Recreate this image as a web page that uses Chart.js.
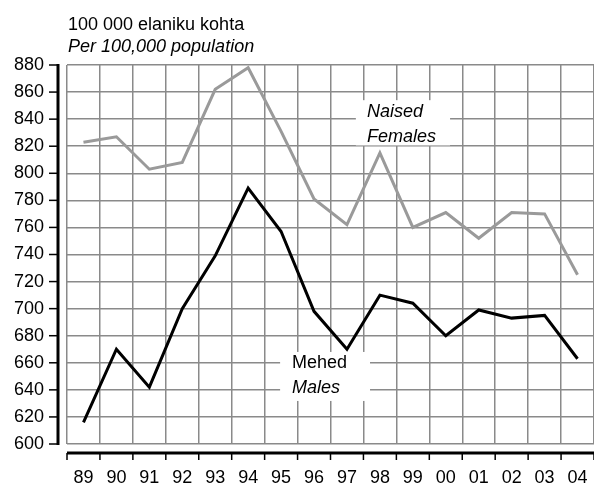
<!DOCTYPE html>
<html>
<head>
<meta charset="utf-8">
<script src="https://cdn.jsdelivr.net/npm/chart.js@4"></script>
<style>
  html, body { margin: 0; padding: 0; background: #fff; }
  canvas { display: block; }
</style>
</head>
<body>
<canvas id="chart" width="594" height="484"></canvas>
<script>
// data
const years = ['89', '90', '91', '92', '93', '94', '95', '96', '97', '98', '99', '00', '01', '02', '03', '04'];
const females = [823, 827, 803, 808, 862, 878, 831, 781, 762, 815, 760, 771, 752, 771, 770, 725];
const males = [616, 670, 642, 700, 739, 789, 757, 698, 670, 710, 704, 680, 699, 693, 695, 663];
const yMin = 600;
const yMax = 880;
const yStep = 20;

const FONT = '"Liberation Sans", Arial, Helvetica, sans-serif';

// white box + two text lines, placed in data units
function seriesLabel(ctx, x, y, box, lines) {
  const left = x.getPixelForValue(box[0]);
  const right = x.getPixelForValue(box[1]);
  const top = y.getPixelForValue(box[2]);
  const bottom = y.getPixelForValue(box[3]);
  ctx.fillStyle = '#fff';
  ctx.fillRect(left, top, right - left, bottom - top);
  ctx.fillStyle = '#000';
  ctx.textBaseline = 'middle';
  ctx.textAlign = 'left';
  lines.forEach(l => {
    ctx.font = (l.italic ? 'italic ' : '') + '18px ' + FONT;
    ctx.fillText(l.text, x.getPixelForValue(l.at[0]), y.getPixelForValue(l.at[1]));
  });
}

const decor = {
  id: 'decor',
  beforeDatasetsDraw(chart) {
    const { ctx, scales: { x, y } } = chart;
    ctx.save();
    seriesLabel(ctx, x, y, [8.27, 11.13, 854, 820.6], [
      { text: 'Naised', italic: true, at: [8.61, 845.5] },
      { text: 'Females', italic: true, at: [8.61, 827] }
    ]);
    seriesLabel(ctx, x, y, [5.97, 8.7, 668, 631.8], [
      { text: 'Mehed', italic: false, at: [6.33, 659.5] },
      { text: 'Males', italic: true, at: [6.33, 641.5] }
    ]);
    ctx.restore();
  },
  afterDraw(chart) {
    const { ctx, chartArea, scales: { x, y } } = chart;
    ctx.save();
    ctx.strokeStyle = '#000';
    // y axis line, set off from the grid
    const ax = chartArea.left - 9;
    ctx.lineWidth = 3;
    ctx.beginPath();
    ctx.moveTo(ax, y.getPixelForValue(yMax) - 1);
    ctx.lineTo(ax, y.getPixelForValue(yMin) + 1);
    ctx.stroke();
    ctx.lineWidth = 1.5;
    y.ticks.forEach(t => {
      const py = y.getPixelForValue(t.value);
      ctx.beginPath();
      ctx.moveTo(ax - 9, py);
      ctx.lineTo(ax, py);
      ctx.stroke();
    });
    // x axis line below the grid
    const ay = chartArea.bottom + 9;
    ctx.lineWidth = 3;
    ctx.beginPath();
    ctx.moveTo(chartArea.left, ay);
    ctx.lineTo(chartArea.right, ay);
    ctx.stroke();
    ctx.lineWidth = 1.5;
    for (let i = 0; i <= years.length; i++) {
      const px = x.getPixelForValue(i - 0.5);
      ctx.beginPath();
      ctx.moveTo(px, ay);
      ctx.lineTo(px, ay + 7);
      ctx.stroke();
    }
    // titles
    ctx.fillStyle = '#000';
    ctx.textBaseline = 'middle';
    ctx.textAlign = 'left';
    ctx.font = '18px ' + FONT;
    ctx.fillText('100 000 elaniku kohta', 68, 25);
    ctx.font = 'italic 18px ' + FONT;
    ctx.fillText('Per 100,000 population', 68, 47);
    ctx.restore();
  }
};

new Chart(document.getElementById('chart'), {
  type: 'line',
  data: {
    labels: years,
    datasets: [
      { label: 'Naised / Females', data: females, borderColor: '#9a9a9a', borderWidth: 3, pointRadius: 0, tension: 0 },
      { label: 'Mehed / Males', data: males, borderColor: '#000', borderWidth: 3, pointRadius: 0, tension: 0 }
    ]
  },
  options: {
    responsive: false,
    devicePixelRatio: 1,
    animation: false,
    layout: { padding: { top: 65, left: 0, right: 0, bottom: 0 } },
    plugins: { legend: { display: false }, tooltip: { enabled: false } },
    scales: {
      x: {
        offset: true,
        grid: { offset: true, color: '#8a8a8a', lineWidth: 1.5, tickLength: 23, tickColor: 'rgba(0,0,0,0)' },
        border: { display: false },
        ticks: { color: '#000', font: { family: FONT, size: 18 }, padding: 0, maxRotation: 0, autoSkip: false },
        afterFit: s => { s.height = 40; }
      },
      y: {
        min: yMin,
        max: yMax,
        grid: { color: '#8a8a8a', lineWidth: 1.5, tickLength: 23, tickColor: 'rgba(0,0,0,0)' },
        border: { display: false },
        ticks: { stepSize: yStep, color: '#000', font: { family: FONT, size: 18 }, padding: 0 },
        afterFit: s => { s.width = 67; }
      }
    }
  },
  plugins: [decor]
});
</script>
</body>
</html>
